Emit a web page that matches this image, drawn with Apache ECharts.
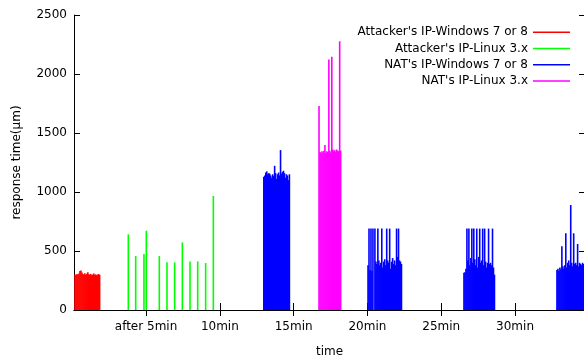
<!DOCTYPE html>
<html>
<head>
<meta charset="utf-8">
<script src="https://cdn.jsdelivr.net/npm/echarts@6/dist/echarts.min.js"></script>
<style>
  html, body { margin: 0; padding: 0; background: #fff; }
  #chart { width: 584px; height: 358px; }
</style>
</head>
<body>
<div id="chart"></div>
<script>
// one sample every 4 seconds, x is in minutes
const sampleStep = 4 / 60

const xTickValues = [5, 10, 15, 20, 25, 30]
const xTickLabels = ['after 5min', '10min', '15min', '20min', '25min', '30min']

const seriesNames = ["Attacker's IP-Windows 7 or 8", "Attacker's IP-Linux 3.x", "NAT's IP-Windows 7 or 8", "NAT's IP-Linux 3.x"]
const seriesColors = ['#ff0000', '#00ff00', '#0000ff', '#ff00ff']

const redStart = 0.19
const redValues = [300, 295, 305, 298, 310, 330, 335, 318, 305, 300, 312, 296, 308, 320, 302, 298, 306, 295, 300, 310, 298, 302, 295, 300, 305, 298]

const greenTimes = [3.80, 4.30, 4.86, 5.02, 5.90, 6.42, 6.94, 7.46, 7.98, 8.50, 9.04, 9.56]
const greenValues = [641, 457, 474, 672, 457, 404, 404, 573, 412, 412, 398, 966]

const blue1Start = 12.98
const blue1Values = [1130, 1140, 1165, 1175, 1150, 1160, 1155, 1140, 1120, 1150, 1135, 1222, 1160, 1110, 1150, 1165, 1140, 1355, 1155, 1170, 1180, 1160, 1120, 1150, 1140, 1100, 1150]

const blue2Start = 20.04
const blue2Values = [380, 690, 340, 690, 330, 690, 0, 690, 410, 390, 690, 420, 380, 400, 690, 360, 410, 430, 380, 690, 420, 400, 690, 350, 410, 440, 390, 420, 380, 690, 450, 690, 420, 410, 390]

const blue3Start = 26.54
const blue3Values = [316, 320, 350, 690, 420, 690, 380, 440, 690, 400, 690, 430, 380, 690, 360, 450, 690, 400, 420, 690, 380, 690, 410, 360, 400, 690, 390, 400, 380, 690, 360, 300]

const blue4Start = 32.84
const blue4Values = [340, 350, 330, 360, 345, 540, 370, 350, 380, 650, 360, 400, 420, 380, 890, 400, 370, 650, 390, 400, 380, 560, 370, 400, 390, 380, 400, 390]

const magentaStart = 16.72
const magentaValues = [1728, 1340, 1330, 1345, 1335, 1350, 1398, 1330, 1345, 1340, 2123, 1350, 1335, 2146, 1360, 1345, 1355, 1340, 1360, 1350, 1345, 2278, 1350]

function toPoints(start, values) {
    return values.map((v, i) => [start + i * sampleStep, v])
}

function renderImpulse(params, api) {
    const top = api.coord([api.value(0), api.value(1)])
    const base = api.coord([api.value(0), 0])
    const w = 1.6
    return {
        type: 'rect',
        shape: { x: top[0] - w / 2, y: top[1], width: w, height: base[1] - top[1] },
        style: { fill: api.visual('color') }
    }
}

const seriesData = [
    toPoints(redStart, redValues),
    greenTimes.map((t, i) => [t, greenValues[i]]),
    toPoints(blue1Start, blue1Values)
        .concat(toPoints(blue2Start, blue2Values))
        .concat(toPoints(blue3Start, blue3Values))
        .concat(toPoints(blue4Start, blue4Values)),
    toPoints(magentaStart, magentaValues)
]

const axisLine = { show: true, lineStyle: { color: '#000', width: 1 } }
const textStyle = { fontFamily: 'DejaVu Sans', fontSize: 12, color: '#000' }

const option = {
    animation: false,
    backgroundColor: '#fff',
    textStyle: textStyle,
    grid: { left: 74, top: 15, width: 511, height: 295, outerBoundsMode: 'none', containLabel: false },
    legend: {
        orient: 'vertical',
        right: 9,
        top: 19,
        align: 'right',
        icon: 'rect',
        itemWidth: 37,
        itemHeight: 1.5,
        itemGap: 0,
        textStyle: { fontFamily: 'DejaVu Sans', fontSize: 12, color: '#000', lineHeight: 16.3 },
        data: seriesNames
    },
    xAxis: [{
        type: 'value',
        min: 0.12,
        max: 34.74,
        name: 'time',
        nameLocation: 'middle',
        nameGap: 36,
        nameTextStyle: textStyle,
        axisLine: axisLine,
        axisTick: { inside: true, length: 7, customValues: xTickValues, lineStyle: { color: '#000' } },
        axisLabel: {
            customValues: xTickValues,
            margin: 11,
            fontFamily: 'DejaVu Sans', fontSize: 12, color: '#000',
            formatter: (v) => xTickLabels[xTickValues.indexOf(v)]
        },
        splitLine: { show: false }
    }, {
        type: 'value',
        position: 'top',
        min: 0.12,
        max: 34.74,
        axisLine: axisLine,
        axisTick: { inside: true, length: 6, customValues: xTickValues, lineStyle: { color: '#000' } },
        axisLabel: { show: false },
        splitLine: { show: false }
    }],
    yAxis: [{
        type: 'value',
        min: 0,
        max: 2500,
        interval: 500,
        name: 'response time(µm)',
        nameLocation: 'middle',
        nameGap: 51,
        nameRotate: 90,
        nameTextStyle: textStyle,
        axisLine: axisLine,
        axisTick: { show: true, inside: true, length: 6, lineStyle: { color: '#000' } },
        axisLabel: { margin: 7, fontFamily: 'DejaVu Sans', fontSize: 12, color: '#000', formatter: (v) => String(v) },
        splitLine: { show: false }
    }, {
        type: 'value',
        position: 'right',
        min: 0,
        max: 2500,
        interval: 500,
        axisLine: { show: false },
        axisTick: { show: true, inside: true, length: 6, lineStyle: { color: '#000' } },
        axisLabel: { show: false },
        splitLine: { show: false }
    }],
    series: seriesNames.map((name, i) => ({
        name: name,
        type: 'custom',
        color: seriesColors[i],
        renderItem: renderImpulse,
        encode: { x: 0, y: 1 },
        data: seriesData[i]
    }))
}

const chart = echarts.init(document.getElementById('chart'), null, { renderer: 'canvas' })
chart.setOption(option)
</script>
</body>
</html>
